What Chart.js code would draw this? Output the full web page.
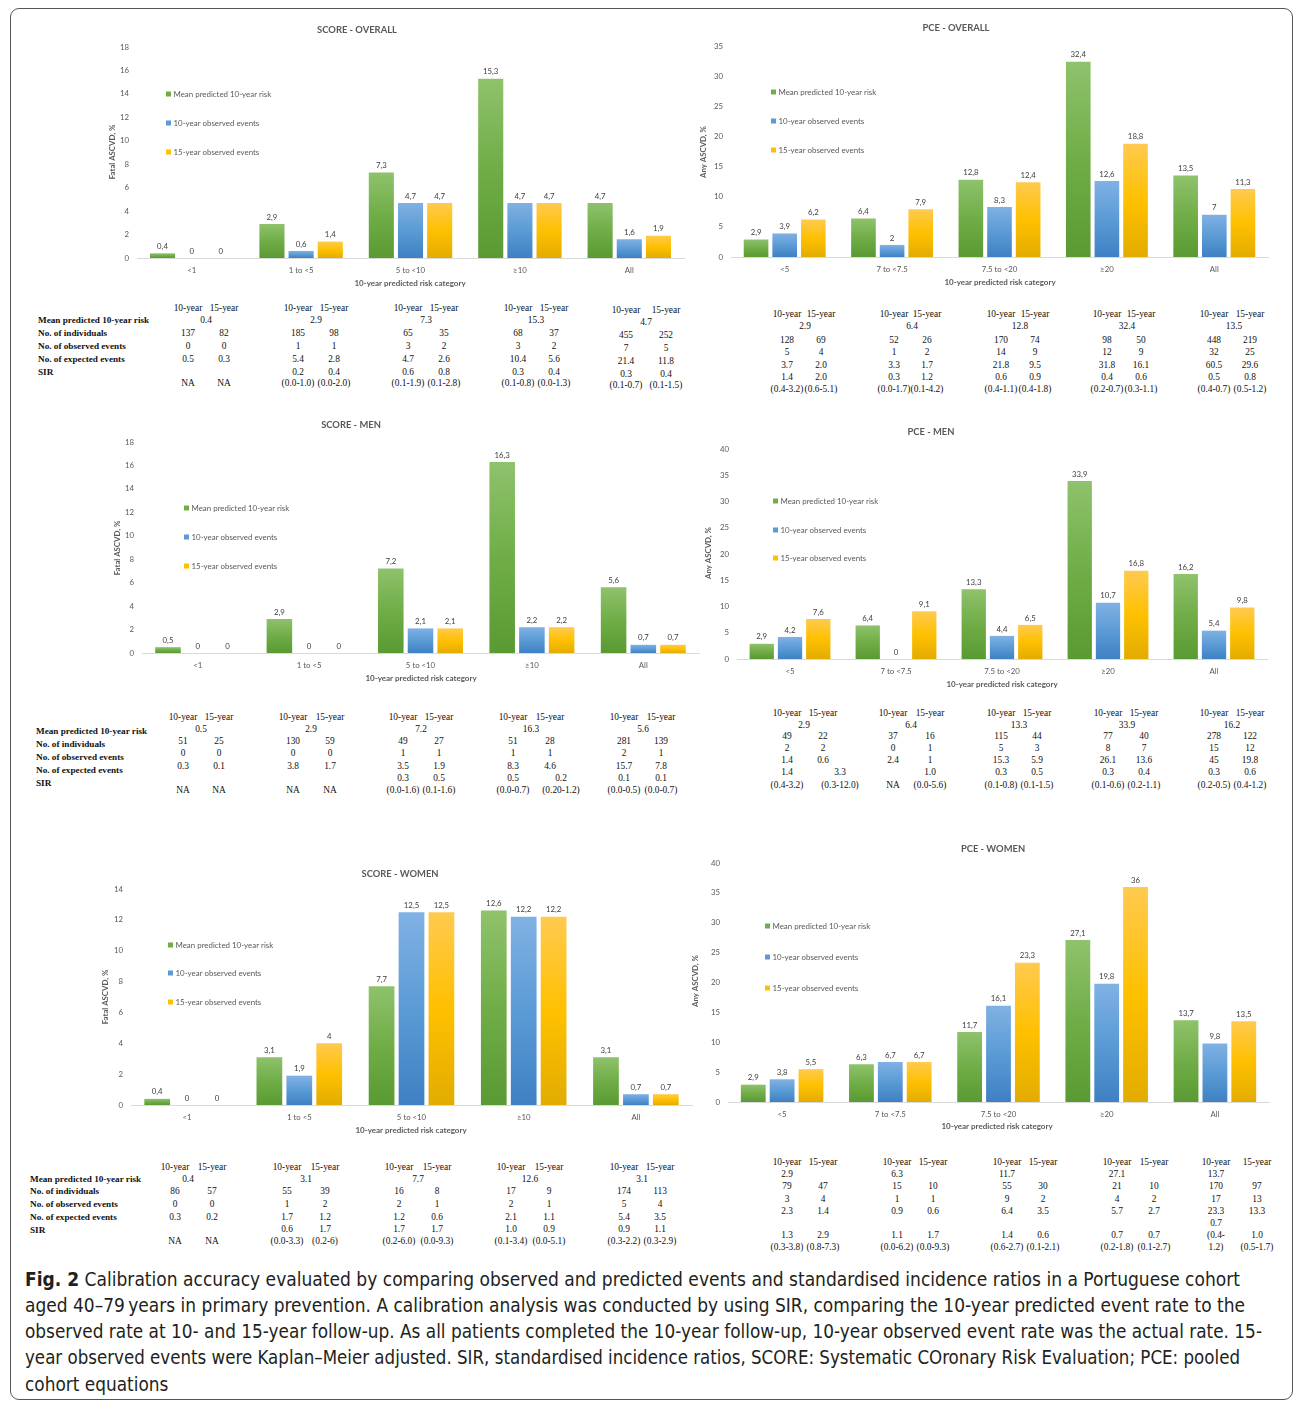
<!DOCTYPE html>
<html><head><meta charset="utf-8">
<script src="https://cdn.jsdelivr.net/npm/chart.js@4.4.1/dist/chart.umd.min.js"></script>
<style>
html,body{margin:0;padding:0;background:#fff;}
body{width:1295px;height:1402px;position:relative;overflow:hidden;}
#frame{position:absolute;left:10px;top:8px;width:1283px;height:1392px;border:1px solid #555;border-radius:9px;box-sizing:border-box;}
canvas.c{position:absolute;}
.t{position:absolute;font-family:"Liberation Serif","Times New Roman",serif;font-size:9.4px;color:#111;white-space:nowrap;transform:translate(-50%,-50%);line-height:1;}
.lbl{position:absolute;font-family:"Liberation Serif","Times New Roman",serif;font-weight:bold;font-size:9.2px;color:#111;white-space:nowrap;transform:translateY(-50%);line-height:1;}
.capline{position:absolute;left:25px;white-space:nowrap;font-family:"Liberation Sans Narrow","DejaVu Sans Condensed","Open Sans",sans-serif;font-size:19px;line-height:26px;color:#231f20;transform-origin:left center;}
</style>
</head><body>
<div id="frame"></div>
<script>
// ---------- chart data ----------
const scoreCats = ["<1", "1 to <5", "5 to <10", "\u226510", "All"];
const pceCats = ["<5", "7 to <7.5", "7.5 to <20", "\u226520", "All"];
const seriesNames = ["Mean predicted 10-year risk", "10-year observed events", "15-year observed events"];

const scoreOverallMean = [0.4, 2.9, 7.3, 15.3, 4.7];
const scoreOverallObs10 = [0, 0.6, 4.7, 4.7, 1.6];
const scoreOverallObs15 = [0, 1.4, 4.7, 4.7, 1.9];

const pceOverallMean = [2.9, 6.4, 12.8, 32.4, 13.5];
const pceOverallObs10 = [3.9, 2, 8.3, 12.6, 7];
const pceOverallObs15 = [6.2, 7.9, 12.4, 18.8, 11.3];

const scoreMenMean = [0.5, 2.9, 7.2, 16.3, 5.6];
const scoreMenObs10 = [0, 0, 2.1, 2.2, 0.7];
const scoreMenObs15 = [0, 0, 2.1, 2.2, 0.7];

const pceMenMean = [2.9, 6.4, 13.3, 33.9, 16.2];
const pceMenObs10 = [4.2, 0, 4.4, 10.7, 5.4];
const pceMenObs15 = [7.6, 9.1, 6.5, 16.8, 9.8];

const scoreWomenMean = [0.4, 3.1, 7.7, 12.6, 3.1];
const scoreWomenObs10 = [0, 1.9, 12.5, 12.2, 0.7];
const scoreWomenObs15 = [0, 4, 12.5, 12.2, 0.7];

const pceWomenMean = [2.9, 6.3, 11.7, 27.1, 13.7];
const pceWomenObs10 = [3.8, 6.7, 16.1, 19.8, 9.8];
const pceWomenObs15 = [5.5, 6.7, 23.3, 36, 13.5];

// ---------- table data ----------
const rowLabels = ["Mean predicted 10-year risk", "No. of individuals", "No. of observed events", "No. of expected events", "SIR"];
const periodHeads = ["10-year", "15-year"];

const t1Mean = ["0.4", "2.9", "7.3", "15.3", "4.7"];
const t1Ind = ["137", "82", "185", "98", "65", "35", "68", "37", "455", "252"];
const t1Obs = ["0", "0", "1", "1", "3", "2", "3", "2", "7", "5"];
const t1Exp = ["0.5", "0.3", "5.4", "2.8", "4.7", "2.6", "10.4", "5.6", "21.4", "11.8"];
const t1Sir = ["", "", "0.2", "0.4", "0.6", "0.8", "0.3", "0.4", "0.3", "0.4"];
const t1Ci = ["NA", "NA", "(0.0-1.0)", "(0.0-2.0)", "(0.1-1.9)", "(0.1-2.8)", "(0.1-0.8)", "(0.0-1.3)", "(0.1-0.7)", "(0.1-1.5)"];

const t2Mean = ["2.9", "6.4", "12.8", "32.4", "13.5"];
const t2Ind = ["128", "69", "52", "26", "170", "74", "98", "50", "448", "219"];
const t2Obs = ["5", "4", "1", "2", "14", "9", "12", "9", "32", "25"];
const t2Exp = ["3.7", "2.0", "3.3", "1.7", "21.8", "9.5", "31.8", "16.1", "60.5", "29.6"];
const t2Sir = ["1.4", "2.0", "0.3", "1.2", "0.6", "0.9", "0.4", "0.6", "0.5", "0.8"];
const t2Ci = ["(0.4-3.2)", "(0.6-5.1)", "(0.0-1.7)", "(0.1-4.2)", "(0.4-1.1)", "(0.4-1.8)", "(0.2-0.7)", "(0.3-1.1)", "(0.4-0.7)", "(0.5-1.2)"];

const t3Mean = ["0.5", "2.9", "7.2", "16.3", "5.6"];
const t3Ind = ["51", "25", "130", "59", "49", "27", "51", "28", "281", "139"];
const t3Obs = ["0", "0", "0", "0", "1", "1", "1", "1", "2", "1"];
const t3Exp = ["0.3", "0.1", "3.8", "1.7", "3.5", "1.9", "8.3", "4.6", "15.7", "7.8"];
const t3Sir = ["", "", "", "", "0.3", "0.5", "0.5", "0.2", "0.1", "0.1"];
const t3Ci = ["NA", "NA", "NA", "NA", "(0.0-1.6)", "(0.1-1.6)", "(0.0-0.7)", "(0.20-1.2)", "(0.0-0.5)", "(0.0-0.7)"];

const t4Mean = ["2.9", "6.4", "13.3", "33.9", "16.2"];
const t4Ind = ["49", "22", "37", "16", "115", "44", "77", "40", "278", "122"];
const t4Obs = ["2", "2", "0", "1", "5", "3", "8", "7", "15", "12"];
const t4Exp = ["1.4", "0.6", "2.4", "1", "15.3", "5.9", "26.1", "13.6", "45", "19.8"];
const t4Sir = ["1.4", "3.3", "", "1.0", "0.3", "0.5", "0.3", "0.4", "0.3", "0.6"];
const t4Ci = ["(0.4-3.2)", "(0.3-12.0)", "NA", "(0.0-5.6)", "(0.1-0.8)", "(0.1-1.5)", "(0.1-0.6)", "(0.2-1.1)", "(0.2-0.5)", "(0.4-1.2)"];

const t5Mean = ["0.4", "3.1", "7.7", "12.6", "3.1"];
const t5Ind = ["86", "57", "55", "39", "16", "8", "17", "9", "174", "113"];
const t5Obs = ["0", "0", "1", "2", "2", "1", "2", "1", "5", "4"];
const t5Exp = ["0.3", "0.2", "1.7", "1.2", "1.2", "0.6", "2.1", "1.1", "5.4", "3.5"];
const t5Sir = ["", "", "0.6", "1.7", "1.7", "1.7", "1.0", "0.9", "0.9", "1.1"];
const t5Ci = ["NA", "NA", "(0.0-3.3)", "(0.2-6)", "(0.2-6.0)", "(0.0-9.3)", "(0.1-3.4)", "(0.0-5.1)", "(0.3-2.2)", "(0.3-2.9)"];

const t6Mean = ["2.9", "6.3", "11.7", "27.1", "13.7"];
const t6Ind = ["79", "47", "15", "10", "55", "30", "21", "10", "170", "97"];
const t6Obs = ["3", "4", "1", "1", "9", "2", "4", "2", "17", "13"];
const t6Exp = ["2.3", "1.4", "0.9", "0.6", "6.4", "3.5", "5.7", "2.7", "23.3", "13.3"];
const t6Sir = ["1.3", "2.9", "1.1", "1.7", "1.4", "0.6", "0.7", "0.7", "0.7", "1.0"];
const t6Ci = ["(0.3-3.8)", "(0.8-7.3)", "(0.0-6.2)", "(0.0-9.3)", "(0.6-2.7)", "(0.1-2.1)", "(0.2-1.8)", "(0.1-2.7)", "(0.4-1.2)", "(0.5-1.7)"];

// ---------- styling ----------
const palette = [
  {light: '#8fc26c', mid: '#70ad47', dark: '#5a9a32'},
  {light: '#80b1e4', mid: '#5b9bd5', dark: '#3e80c3'},
  {light: '#ffca4f', mid: '#ffc000', dark: '#e2ac00'}
];
const FONT = 'Lato, "Open Sans", sans-serif';
const TXT = '#595959';
const PT = 30, PR = 12, YW = 44, XH = 34;

function fmt(v) { return String(v).replace('.', ','); }

function makeChart(cfg) {
  const [L, T, R, B] = cfg.rect;
  const ox = L - YW, oy = T - PT;
  const w = (R - L) + YW + PR, h = (B - T) + PT + XH;
  const cv = document.createElement('canvas');
  cv.className = 'c';
  cv.width = w; cv.height = h;
  cv.style.left = ox + 'px'; cv.style.top = oy + 'px';
  cv.style.width = w + 'px'; cv.style.height = h + 'px';
  document.body.appendChild(cv);

  const datasets = cfg.series.map((arr, i) => ({
    label: seriesNames[i],
    data: arr,
    barPercentage: 0.86,
    categoryPercentage: 0.8,
    borderWidth: 0,
    backgroundColor: (ctx) => {
      const p = palette[i];
      const chart = ctx.chart;
      if (!chart.chartArea || ctx.type !== 'data' || !chart.scales.y) return p.mid;
      const ys = chart.scales.y;
      const top = ys.getPixelForValue(ctx.raw), bot = ys.getPixelForValue(0);
      if (bot - top < 1) return p.mid;
      const g = chart.ctx.createLinearGradient(0, top, 0, bot);
      g.addColorStop(0, p.light); g.addColorStop(0.5, p.mid); g.addColorStop(1, p.dark);
      return g;
    }
  }));

  const deco = {
    id: 'deco',
    afterDatasetsDraw(chart) {
      const c = chart.ctx;
      c.save();
      // data labels
      c.font = '7.8px ' + FONT; c.fillStyle = '#404040';
      c.textAlign = 'center'; c.textBaseline = 'bottom';
      chart.data.datasets.forEach((ds, di) => {
        chart.getDatasetMeta(di).data.forEach((el, j) => {
          c.fillText(fmt(ds.data[j]), el.x, el.y - 3);
        });
      });
      // title
      c.fillStyle = TXT; c.textBaseline = 'middle';
      c.font = 'bold 9.4px ' + FONT;
      c.fillText(cfg.title, cfg.titlePos[0] - ox, cfg.titlePos[1] - oy);
      // x title
      c.font = 'bold 8px ' + FONT;
      c.fillText('10-year predicted risk category', cfg.xTitlePos[0] - ox, cfg.xTitlePos[1] - oy);
      // y title
      c.save();
      c.translate(cfg.yTitlePos[0] - ox, cfg.yTitlePos[1] - oy);
      c.rotate(-Math.PI / 2);
      c.font = 'bold 7.8px ' + FONT;
      c.fillText(cfg.yTitle, 0, 0);
      c.restore();
      // legend
      c.textAlign = 'left';
      c.font = '7.9px ' + FONT;
      seriesNames.forEach((n, i) => {
        const ly = cfg.legendY[i] - oy, lx = cfg.legendX - ox;
        c.fillStyle = palette[i].mid;
        c.fillRect(lx, ly - 2.5, 5, 5);
        c.fillStyle = TXT;
        c.fillText(n, lx + 7.5, ly);
      });
      c.restore();
    }
  };

  new Chart(cv, {
    type: 'bar',
    data: {labels: cfg.cats, datasets},
    options: {
      responsive: false, animation: false, devicePixelRatio: 1,
      layout: {padding: {top: PT, right: PR, left: 0, bottom: 0}},
      plugins: {legend: {display: false}, tooltip: {enabled: false}, title: {display: false}},
      scales: {
        x: {
          grid: {display: false, drawTicks: false},
          border: {display: true, color: '#d9d9d9'},
          ticks: {padding: 8, font: {family: FONT, size: 7.8}, color: TXT, maxRotation: 0, autoSkip: false},
          afterFit: s => { s.height = XH; }
        },
        y: {
          min: 0, max: cfg.yMax,
          ticks: {stepSize: cfg.step, padding: 8, font: {family: FONT, size: 7.8}, color: TXT},
          grid: {display: false, drawTicks: false},
          border: {display: false},
          afterFit: s => { s.width = YW; }
        }
      }
    },
    plugins: [deco]
  });
}

makeChart({rect: [137, 47, 684, 258], cats: scoreCats, series: [scoreOverallMean, scoreOverallObs10, scoreOverallObs15],
  yMax: 18, step: 2, title: 'SCORE - OVERALL', titlePos: [357, 30], yTitle: 'Fatal ASCVD, %', yTitlePos: [112, 152],
  xTitlePos: [410, 283], legendX: 166, legendY: [94, 123, 152]});
makeChart({rect: [731, 46, 1268, 257], cats: pceCats, series: [pceOverallMean, pceOverallObs10, pceOverallObs15],
  yMax: 35, step: 5, title: 'PCE - OVERALL', titlePos: [956, 28], yTitle: 'Any ASCVD, %', yTitlePos: [703, 152],
  xTitlePos: [1000, 282], legendX: 771, legendY: [92, 121, 150]});
makeChart({rect: [142, 442, 699, 653], cats: scoreCats, series: [scoreMenMean, scoreMenObs10, scoreMenObs15],
  yMax: 18, step: 2, title: 'SCORE - MEN', titlePos: [351, 425], yTitle: 'Fatal ASCVD, %', yTitlePos: [117, 548],
  xTitlePos: [421, 678], legendX: 184, legendY: [508, 537, 566]});
makeChart({rect: [737, 449, 1267, 659], cats: pceCats, series: [pceMenMean, pceMenObs10, pceMenObs15],
  yMax: 40, step: 5, title: 'PCE - MEN', titlePos: [931, 432], yTitle: 'Any ASCVD, %', yTitlePos: [708, 553],
  xTitlePos: [1002, 684], legendX: 773, legendY: [501, 530, 558]});
makeChart({rect: [131, 889, 692, 1105], cats: scoreCats, series: [scoreWomenMean, scoreWomenObs10, scoreWomenObs15],
  yMax: 14, step: 2, title: 'SCORE - WOMEN', titlePos: [400, 874], yTitle: 'Fatal ASCVD, %', yTitlePos: [105, 997],
  xTitlePos: [411, 1130], legendX: 168, legendY: [945, 973, 1002]});
makeChart({rect: [728, 863, 1269, 1102], cats: pceCats, series: [pceWomenMean, pceWomenObs10, pceWomenObs15],
  yMax: 40, step: 5, title: 'PCE - WOMEN', titlePos: [993, 849], yTitle: 'Any ASCVD, %', yTitlePos: [695, 981],
  xTitlePos: [997, 1126], legendX: 765, legendY: [926, 957, 988]});

// ---------- tables ----------
function put(text, x, y, cls) {
  if (text === '' || text == null) return;
  const d = document.createElement('div');
  d.className = cls || 't';
  d.textContent = text;
  d.style.left = x + 'px'; d.style.top = y + 'px';
  document.body.appendChild(d);
}
function buildTable(Lo, D) {
  if (Lo.labelX != null) rowLabels.forEach((t, i) => put(t, Lo.labelX, Lo.labelY[i], 'lbl'));
  for (let g = 0; g < 5; g++) {
    const dy = Lo.groupDy ? Lo.groupDy[g] : 0;
    const mx = Lo.meanLeft ? Lo.colX[2 * g] : Lo.meanX[g];
    put(D.mean[g], mx, Lo.y.mean + dy);
    for (let k = 0; k < 2; k++) {
      const i = 2 * g + k, x = Lo.colX[i];
      const sx = x + ((Lo.shift && Lo.shift[i]) || 0);
      put(periodHeads[k], x, Lo.y.head + dy);
      put(D.ind[i], x, Lo.y.ind + dy);
      put(D.obs[i], x, Lo.y.obs + dy);
      put(D.exp[i], x, Lo.y.exp + dy);
      if (Lo.wrap === i) {
        const cut = D.ci[i].indexOf('-') + 1;
        put(D.sir[i], sx, Lo.y.pre + dy);
        put(D.ci[i].slice(0, cut), sx, Lo.y.sir + dy);
        put(D.ci[i].slice(cut), sx, Lo.y.ci + dy);
      } else {
        put(D.sir[i], sx, Lo.y.sir + dy);
        put(D.ci[i], sx, Lo.y.ci + dy);
      }
    }
  }
}
buildTable({labelX: 38, labelY: [321, 334, 347, 360, 373],
  y: {head: 309, mean: 321, ind: 334, obs: 347, exp: 360, sir: 373, ci: 384},
  colX: [188, 224, 298, 334, 408, 444, 518, 554, 626, 666], meanX: [206, 316, 426, 536, 646], groupDy: [0, 0, 0, 0, 2]},
  {mean: t1Mean, ind: t1Ind, obs: t1Obs, exp: t1Exp, sir: t1Sir, ci: t1Ci});
buildTable({y: {head: 315, mean: 327, ind: 341, obs: 353, exp: 366, sir: 378, ci: 390},
  colX: [787, 821, 894, 927, 1001, 1035, 1107, 1141, 1214, 1250], meanX: [805, 912, 1020, 1127, 1234]},
  {mean: t2Mean, ind: t2Ind, obs: t2Obs, exp: t2Exp, sir: t2Sir, ci: t2Ci});
buildTable({labelX: 36, labelY: [732, 745, 758, 771, 784],
  y: {head: 718, mean: 730, ind: 742, obs: 754, exp: 767, sir: 779, ci: 791},
  colX: [183, 219, 293, 330, 403, 439, 513, 550, 624, 661], meanX: [201, 311, 421, 531, 643], shift: {7: 11}},
  {mean: t3Mean, ind: t3Ind, obs: t3Obs, exp: t3Exp, sir: t3Sir, ci: t3Ci});
buildTable({y: {head: 714, mean: 726, ind: 737, obs: 749, exp: 761, sir: 773, ci: 786},
  colX: [787, 823, 893, 930, 1001, 1037, 1108, 1144, 1214, 1250], meanX: [804, 911, 1019, 1127, 1232], shift: {1: 17}},
  {mean: t4Mean, ind: t4Ind, obs: t4Obs, exp: t4Exp, sir: t4Sir, ci: t4Ci});
buildTable({labelX: 30, labelY: [1180, 1192, 1205, 1218, 1231],
  y: {head: 1168, mean: 1180, ind: 1192, obs: 1205, exp: 1218, sir: 1230, ci: 1242},
  colX: [175, 212, 287, 325, 399, 437, 511, 549, 624, 660], meanX: [188, 306, 418, 530, 642]},
  {mean: t5Mean, ind: t5Ind, obs: t5Obs, exp: t5Exp, sir: t5Sir, ci: t5Ci});
buildTable({y: {head: 1163, mean: 1175, ind: 1187, obs: 1200, exp: 1212, pre: 1224, sir: 1236, ci: 1248},
  colX: [787, 823, 897, 933, 1007, 1043, 1117, 1154, 1216, 1257], meanLeft: true, wrap: 8},
  {mean: t6Mean, ind: t6Ind, obs: t6Obs, exp: t6Exp, sir: t6Sir, ci: t6Ci});

// ---------- caption ----------
const captionLines = [
  ["Fig. 2", " Calibration accuracy evaluated by comparing observed and predicted events and standardised incidence ratios in a Portuguese cohort"],
  ["", "aged 40\u201379\u2009years in primary prevention. A calibration analysis was conducted by using SIR, comparing the 10-year predicted event rate to the"],
  ["", "observed rate at 10- and 15-year follow-up. As all patients completed the 10-year follow-up, 10-year observed event rate was the actual rate. 15-"],
  ["", "year observed events were Kaplan\u2013Meier adjusted. SIR, standardised incidence ratios, SCORE: Systematic COronary Risk Evaluation; PCE: pooled"],
  ["", "cohort equations"]
];
const capY = [1279, 1305, 1331, 1357, 1384];
const capW = [1215, 1220, 1237, 1215, 0];
const capEls = captionLines.map((ln, i) => {
  const d = document.createElement('div');
  d.className = 'capline';
  d.style.top = (capY[i] - 13) + 'px';
  if (ln[0]) { const b = document.createElement('b'); b.textContent = ln[0]; d.appendChild(b); }
  d.appendChild(document.createTextNode(ln[1]));
  document.body.appendChild(d);
  return d;
});
function fitCaption() {
  let sum = 0, n = 0;
  capEls.forEach((d, i) => {
    if (!capW[i]) return;
    d.style.transform = 'none';
    const s = capW[i] / d.getBoundingClientRect().width;
    d.style.transform = 'scaleX(' + s + ')';
    sum += s; n++;
  });
  capEls[4].style.transform = 'scaleX(' + (sum / n) + ')';
}
fitCaption();
if (document.fonts && document.fonts.ready) document.fonts.ready.then(fitCaption);
</script>
</body></html>
